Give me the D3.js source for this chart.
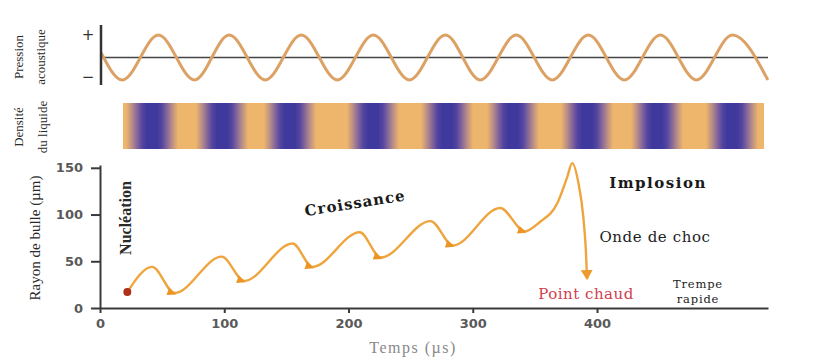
<!DOCTYPE html>
<html>
<head>
<meta charset="utf-8">
<script src="https://cdnjs.cloudflare.com/ajax/libs/d3/7.8.5/d3.min.js"></script>
<style>
  body { margin: 0; background: #fff; }
  svg { display: block; }
  .axis path, .axis line { stroke: #3a3a3a; stroke-width: 2; }
  .axis text { font-family: "DejaVu Sans", sans-serif; font-weight: bold; font-size: 13px; fill: #595959; }
</style>
</head>
<body>
<svg width="820" height="358"></svg>
<script>
// bubble radius (µm) against time (µs)
var bubbleT = [22, 42, 60, 98, 116, 155, 171, 209, 226, 266, 284, 322, 342, 354, 368, 376, 380, 385, 389, 391, 392];
var bubbleR = [17, 44, 16, 55, 29, 69, 44, 81, 54, 93, 67, 107, 82, 92, 112, 140, 155, 134, 97, 62, 31];

var xTicks = [0, 100, 200, 300, 400];
var yTicks = [0, 50, 100, 150];

// acoustic pressure: extrema of the wave (time µs, relative amplitude)
var pressureT = [1, 18, 47, 76, 104, 133, 162, 191, 220, 249, 278, 306, 335, 364, 393, 422, 451, 480, 509, 537.5];
var pressureP = [0.2, -1, 1, -1, 1, -1, 1, -1, 1, -1, 1, -1, 1, -1, 1, -1, 1, -1, 1, -1];

// liquid density: centres of the dense (blue) bands, and the band's extent (µs)
var densityPeaks = [41.9, 98.2, 152.9, 219.7, 279.3, 332.4, 392, 448.3, 508.7];
var densitySpan = [18.5, 534.4];

var svg = d3.select("svg");

var x = d3.scaleLinear().domain([0, 537.6]).range([100, 768]);
var y = d3.scaleLinear().domain([0, 153]).range([308, 165]);
var yp = d3.scaleLinear().domain([-1, 1]).range([80, 35]);

var serif = "'DejaVu Serif', serif";
var times = "'Liberation Serif', serif";

// ---- pressure panel
svg.append("line")
  .attr("x1", x(0)).attr("x2", x(537.6))
  .attr("y1", yp(0)).attr("y2", yp(0))
  .attr("stroke", "#444").attr("stroke-width", 1.6);

var pressure = pressureT.map(function (t, i) { return [t, pressureP[i]]; });
svg.append("path")
  .datum(pressure)
  .attr("fill", "none")
  .attr("stroke", "#DCA265")
  .attr("stroke-width", 3)
  .attr("d", d3.line()
    .x(function (d) { return x(d[0]); })
    .y(function (d) { return yp(d[1]); })
    .curve(d3.curveMonotoneX));

svg.append("line")
  .attr("x1", x(0) + 1).attr("x2", x(0) + 1)
  .attr("y1", 25).attr("y2", 85)
  .attr("stroke", "#333").attr("stroke-width", 2.5);

svg.append("text").attr("x", 88).attr("y", 35).attr("dy", "0.35em")
  .attr("text-anchor", "middle").attr("font-family", "DejaVu Sans").attr("font-size", 15)
  .attr("fill", "#333").text("+");
svg.append("text").attr("x", 88).attr("y", 77).attr("dy", "0.35em")
  .attr("text-anchor", "middle").attr("font-family", "DejaVu Sans").attr("font-size", 15)
  .attr("fill", "#333").text("\u2212");

// ---- density band
var grad = svg.append("defs").append("linearGradient")
  .attr("id", "dens")
  .attr("gradientUnits", "userSpaceOnUse")
  .attr("x1", x(densitySpan[0])).attr("x2", x(densitySpan[1]))
  .attr("y1", 0).attr("y2", 0);

var orange = "#EDB66C", blue = "#3F399E";
// soft edge of a dense band: offset from its centre (µs) -> colour
var edge = [[4, blue], [8, "#55469F"], [12, "#85679A"], [16, "#B88C88"], [21, orange]];
var span = densitySpan[1] - densitySpan[0];
var stops = [[densitySpan[0], orange]];
densityPeaks.forEach(function (c) {
  edge.slice().reverse().forEach(function (e) { stops.push([c - e[0], e[1]]); });
  edge.forEach(function (e) { stops.push([c + e[0], e[1]]); });
});
stops.push([densitySpan[1], orange]);
stops.forEach(function (s) {
  grad.append("stop")
    .attr("offset", Math.max(0, Math.min(1, (s[0] - densitySpan[0]) / span)))
    .attr("stop-color", s[1]);
});

svg.append("rect")
  .attr("x", x(densitySpan[0])).attr("y", 103)
  .attr("width", x(densitySpan[1]) - x(densitySpan[0])).attr("height", 46)
  .attr("fill", "url(#dens)");

// side labels
function vlabel(cx, cy, txt, size, font, weight) {
  svg.append("text")
    .attr("transform", "translate(" + cx + "," + cy + ") rotate(-90)")
    .attr("text-anchor", "middle").attr("dy", "0.35em")
    .attr("font-family", font).attr("font-size", size)
    .attr("font-weight", weight || "normal")
    .attr("fill", "#2a2a2a").text(txt);
}
vlabel(18, 57, "Pression", 13, times);
vlabel(40, 57, "acoustique", 13, times);
vlabel(18, 127, "Densité", 13, times);
vlabel(42, 127, "du liquide", 13, times);
vlabel(35, 238, "Rayon de bulle (µm)", 15, times);
vlabel(125, 218, "Nucléation", 16, times, "bold");

// ---- bubble radius chart
svg.append("g")
  .attr("class", "axis")
  .attr("transform", "translate(0,308)")
  .call(d3.axisBottom(x).tickValues(xTicks).tickSize(5).tickSizeOuter(0).tickPadding(6));

svg.append("g")
  .attr("class", "axis")
  .attr("transform", "translate(100,0)")
  .call(d3.axisLeft(y).tickValues(yTicks).tickSize(9).tickSizeOuter(0).tickPadding(8));

svg.append("defs").append("marker")
  .attr("id", "tip")
  .attr("markerUnits", "userSpaceOnUse")
  .attr("viewBox", "0 -6 10 12")
  .attr("markerWidth", 10).attr("markerHeight", 12)
  .attr("refX", 9).attr("refY", 0)
  .attr("orient", "auto")
  .append("path").attr("d", "M0,-6L10,0L0,6Z").attr("fill", "#EE9A2C");

var bubble = bubbleT.map(function (t, i) { return [t, bubbleR[i]]; });
var bubbleLine = d3.line()
  .x(function (d) { return x(d[0]); })
  .y(function (d) { return y(d[1]); })
  .curve(d3.curveMonotoneX);

svg.append("path")
  .datum(bubble)
  .attr("fill", "none")
  .attr("stroke", "#EFA53E")
  .attr("stroke-width", 2.4)
  .attr("marker-end", "url(#tip)")
  .attr("d", bubbleLine);

// small arrowheads at each compression minimum
bubble.forEach(function (d, i) {
  if (i == 0 || i == bubble.length - 1) return;
  if (d[1] < bubble[i - 1][1] && d[1] < bubble[i + 1][1]) {
    svg.append("path")
      .attr("d", "M-5,-4L4,0L-5,4Z")
      .attr("fill", "#EB9525")
      .attr("transform", "translate(" + (x(d[0]) - 2) + "," + y(d[1]) + ") rotate(20)");
  }
});

svg.append("circle")
  .attr("cx", x(bubble[0][0])).attr("cy", y(bubble[0][1]))
  .attr("r", 4).attr("fill", "#B0301C");

// annotations
svg.append("text")
  .attr("transform", "translate(355,203) rotate(-9)")
  .attr("text-anchor", "middle").attr("dy", "0.35em")
  .attr("font-family", serif).attr("font-weight", "bold").attr("font-size", 15)
  .attr("letter-spacing", 1).attr("fill", "#1a1a1a").text("Croissance");

function label(cx, cy, txt, size, opts) {
  opts = opts || {};
  svg.append("text")
    .attr("x", cx).attr("y", cy).attr("dy", "0.35em")
    .attr("text-anchor", "middle")
    .attr("font-family", opts.font || serif)
    .attr("font-weight", opts.weight || "normal")
    .attr("font-size", size)
    .attr("letter-spacing", opts.spacing || 0)
    .attr("fill", opts.color || "#222")
    .text(txt);
}
label(658, 183, "Implosion", 15, { weight: "bold", spacing: 1.5, color: "#1a1a1a" });
label(655, 237, "Onde de choc", 15, { spacing: 0.6 });
label(586, 294, "Point chaud", 15, { spacing: 0.5, color: "#D0404E" });
label(698, 284, "Trempe", 11.5, { spacing: 0.8 });
label(698, 299, "rapide", 11.5, { spacing: 0.8 });
label(413, 347, "Temps (µs)", 16, { font: times, spacing: 1.5, color: "#888" });
</script>
</body>
</html>
